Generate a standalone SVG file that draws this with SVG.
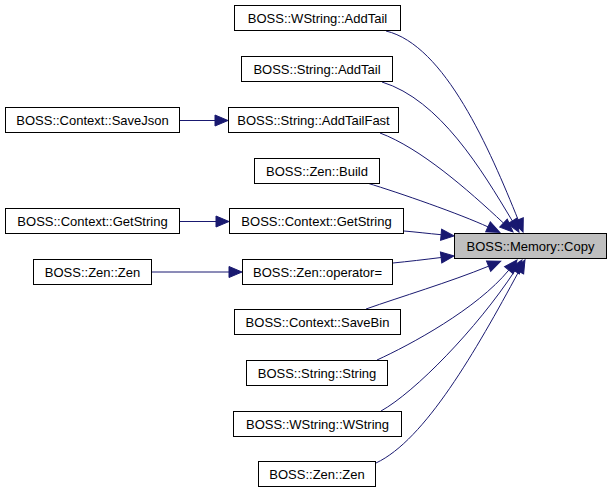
<svg xmlns="http://www.w3.org/2000/svg" width="612" height="493" viewBox="0 0 612 493">
<style>
.node rect{fill:#ffffff;stroke:#000000;stroke-width:1}
#copy rect{fill:#bfbfbf}
.node text{font-family:"Liberation Sans",Arial,Helvetica,sans-serif;font-size:13px;fill:#000000;text-anchor:middle}
.edge{fill:none;stroke:#191970;stroke-width:1}
</style>
<defs>
<marker id="arr" markerUnits="userSpaceOnUse" markerWidth="14" markerHeight="12" refX="0" refY="5.5" orient="auto" overflow="visible">
<path d="M0,0 L13,5.5 L0,11 z" fill="#191970" stroke="#191970" stroke-width="1"/>
</marker>
</defs>
<rect x="0" y="0" width="612" height="493" fill="#ffffff"/>
<g id="connectors">
<path class="edge" marker-end="url(#arr)" d="M386,31 C445,45 490,150 518.2,219.9"/>
<path class="edge" marker-end="url(#arr)" d="M382,82 C440,100 481.5,169.5 512.3,220.9"/>
<path class="edge" marker-end="url(#arr)" d="M380,133 C420,148 467,188.9 503.5,223.1"/>
<path class="edge" marker-end="url(#arr)" d="M367,183 C400,193 460,214 488,226.9"/>
<path class="edge" marker-end="url(#arr)" d="M404,231 C416,232 428,233.5 441.1,234.7"/>
<path class="edge" marker-end="url(#arr)" d="M393,263 C408,261.5 425,259.5 441.1,257.5"/>
<path class="edge" marker-end="url(#arr)" d="M366,309 C400,297 450,282 488.6,266.2"/>
<path class="edge" marker-end="url(#arr)" d="M377,360 C410,345 477.1,308.8 508.8,270.1"/>
<path class="edge" marker-end="url(#arr)" d="M381,411 C415,392 476.3,329.4 514.8,270.9"/>
<path class="edge" marker-end="url(#arr)" d="M376,463 C425,440 476,350.6 518.8,271.4"/>
<path class="edge" marker-end="url(#arr)" d="M180,120.5 L215,120.5"/>
<path class="edge" marker-end="url(#arr)" d="M180,221.5 L216,221.5"/>
<path class="edge" marker-end="url(#arr)" d="M152,272 L229,272"/>
</g>
<g id="copy" class="node"><rect x="454.5" y="233.5" width="152" height="25"/><text x="530.5" y="251">BOSS::Memory::Copy</text></g>
<g id="wstring_addtail" class="node"><rect x="234.5" y="5.5" width="166" height="25"/><text x="317.5" y="23">BOSS::WString::AddTail</text></g>
<g id="string_addtail" class="node"><rect x="241.5" y="56.5" width="151" height="25"/><text x="317" y="74">BOSS::String::AddTail</text></g>
<g id="string_addtailfast" class="node"><rect x="228.5" y="107.5" width="170" height="25"/><text x="313.5" y="125">BOSS::String::AddTailFast</text></g>
<g id="zen_build" class="node"><rect x="254.5" y="158.5" width="125" height="25"/><text x="317" y="176">BOSS::Zen::Build</text></g>
<g id="context_getstring2" class="node"><rect x="229.5" y="208.5" width="174" height="25"/><text x="316.5" y="226">BOSS::Context::GetString</text></g>
<g id="zen_operator" class="node"><rect x="242.5" y="259.5" width="150" height="25"/><text x="317.5" y="277">BOSS::Zen::operator=</text></g>
<g id="context_savebin" class="node"><rect x="234.5" y="309.5" width="166" height="25"/><text x="317.5" y="327">BOSS::Context::SaveBin</text></g>
<g id="string_string" class="node"><rect x="246.5" y="360.5" width="141" height="25"/><text x="317" y="378">BOSS::String::String</text></g>
<g id="wstring_wstring" class="node"><rect x="233.5" y="411.5" width="168" height="25"/><text x="317.5" y="429">BOSS::WString::WString</text></g>
<g id="zen_zen2" class="node"><rect x="258.5" y="461.5" width="117" height="25"/><text x="317" y="479">BOSS::Zen::Zen</text></g>
<g id="context_savejson" class="node"><rect x="5.5" y="107.5" width="174" height="25"/><text x="92.5" y="125">BOSS::Context::SaveJson</text></g>
<g id="context_getstring1" class="node"><rect x="5.5" y="208.5" width="174" height="25"/><text x="92.5" y="226">BOSS::Context::GetString</text></g>
<g id="zen_zen1" class="node"><rect x="33.5" y="259.5" width="118" height="25"/><text x="92.5" y="277">BOSS::Zen::Zen</text></g>
</svg>
